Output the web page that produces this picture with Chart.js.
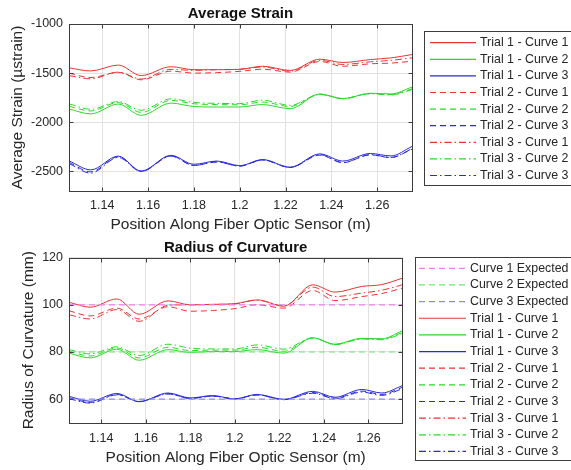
<!DOCTYPE html>
<html>
<head>
<meta charset="utf-8">
<script src="https://cdn.jsdelivr.net/npm/chart.js@4.4.1/dist/chart.umd.min.js"></script>
<style>
  body { margin: 0; background: #fff; }
  #wrap { position: relative; width: 571px; height: 470px; overflow: hidden; }
  canvas { position: absolute; left: 0; }
</style>
</head>
<body>
<div id="wrap">
  <canvas id="strainChart" width="571" height="235" style="top:0"></canvas>
  <canvas id="radiusChart" width="571" height="235" style="top:235px"></canvas>
</div>
<script>
// sample positions along the sensor (m)
const positions = [1.1255, 1.135, 1.147, 1.157, 1.17, 1.18, 1.19, 1.2, 1.21, 1.222, 1.235, 1.245, 1.257, 1.266, 1.2752];
const positionTicks = [1.14, 1.16, 1.18, 1.2, 1.22, 1.24, 1.26];

// average strain (µstrain)
const strainT1C1 = [-1446, -1478, -1418, -1525, -1435, -1465, -1465, -1462, -1430, -1473, -1358, -1392, -1362, -1345, -1311];
const strainT1C2 = [-1865, -1915, -1815, -1930, -1805, -1840, -1845, -1845, -1820, -1862, -1712, -1760, -1705, -1712, -1642];
const strainT1C3 = [-2393, -2485, -2345, -2497, -2337, -2428, -2395, -2442, -2380, -2458, -2322, -2395, -2318, -2343, -2247];
const strainT2C1 = [-1500, -1545, -1492, -1568, -1480, -1500, -1495, -1482, -1460, -1490, -1382, -1430, -1405, -1398, -1379];
const strainT2C2 = [-1838, -1885, -1800, -1900, -1778, -1812, -1820, -1822, -1795, -1840, -1715, -1760, -1708, -1718, -1660];
const strainT2C3 = [-2408, -2505, -2352, -2500, -2342, -2440, -2403, -2446, -2384, -2460, -2335, -2412, -2332, -2360, -2275];
const strainT3C1 = [-1525, -1558, -1490, -1560, -1462, -1472, -1465, -1460, -1438, -1480, -1370, -1412, -1385, -1370, -1345];
const strainT3C2 = [-1812, -1868, -1790, -1878, -1762, -1798, -1808, -1810, -1775, -1828, -1718, -1760, -1710, -1722, -1668];
const strainT3C3 = [-2420, -2518, -2358, -2502, -2345, -2440, -2405, -2446, -2384, -2460, -2330, -2410, -2330, -2358, -2270];
const strainTicks = [-2500, -2000, -1500, -1000];

// radius of curvature (mm)
const expectedRadius = [100, 80, 60];
const radiusT1C1 = [101.1, 99.0, 102.5, 96.0, 101.7, 100.0, 100.2, 100.5, 102.1, 99.4, 108.5, 105.4, 107.8, 108.6, 111.3];
const radiusT1C2 = [79.5, 77.5, 81.2, 76.5, 81.0, 79.8, 80.2, 80.2, 81.0, 79.5, 86.0, 83.3, 85.8, 85.6, 89.0];
const radiusT1C3 = [61.2, 59.1, 62.4, 58.9, 62.6, 60.5, 61.5, 60.1, 62.0, 59.9, 63.3, 60.8, 64.1, 62.6, 65.7];
const radiusT2C1 = [97.5, 95.3, 98.6, 94.0, 99.2, 97.3, 97.6, 98.4, 100.0, 98.6, 106.1, 101.8, 103.5, 104.8, 107.1];
const radiusT2C2 = [80.3, 78.3, 81.7, 77.5, 82.0, 80.6, 80.8, 80.8, 82.0, 80.3, 86.0, 83.2, 85.7, 85.4, 88.3];
const radiusT2C3 = [60.6, 58.6, 62.0, 59.0, 62.3, 60.3, 61.3, 60.1, 61.8, 59.8, 62.8, 60.4, 63.4, 62.0, 65.0];
const radiusT3C1 = [95.8, 94.0, 98.0, 93.0, 99.8, 100.0, 100.2, 100.4, 102.0, 99.6, 107.5, 103.5, 105.0, 106.2, 108.5];
const radiusT3C2 = [81.0, 79.2, 82.2, 78.5, 83.3, 81.6, 81.3, 81.3, 83.0, 81.2, 86.0, 83.1, 85.5, 85.2, 87.8];
const radiusT3C3 = [60.2, 58.3, 61.8, 59.0, 62.2, 60.3, 61.3, 60.1, 61.8, 59.8, 62.5, 60.2, 63.0, 61.6, 64.4];
const radiusTicks = [60, 80, 100, 120];

const X_MIN = 1.1255;
const X_MAX = 1.2752;

const RED = "rgb(236,52,52)";
const GREEN = "rgb(40,218,40)";
const BLUE = "rgb(42,42,218)";
const SOLID = [];
const DASHED = [6, 4];
const DASHDOT = [7, 3, 1.5, 3];
const TEXT = "#262626";
const GRID = "#e2e2e2";
const AXIS = "#3c3c3c";

Chart.defaults.font.family = "'Liberation Sans', Arial, sans-serif";
Chart.defaults.color = TEXT;

function series(ys) {
  return positions.map((x, i) => ({ x, y: ys[i] }));
}

function trial(label, ys, color, dash) {
  return {
    label,
    data: series(ys),
    borderColor: color,
    borderDash: dash,
    borderWidth: 1,
    pointRadius: 0,
    fill: false,
    cubicInterpolationMode: "monotone",
  };
}

function expected(label, value, color) {
  return {
    label,
    data: [{ x: X_MIN, y: value }, { x: X_MAX, y: value }],
    borderColor: color,
    borderDash: DASHED,
    borderWidth: 1.2,
    pointRadius: 0,
    fill: false,
  };
}

// box round the plot area, inward ticks, and the title above it
const framePlugin = {
  id: "frame",
  afterDatasetsDraw(chart, args, opts) {
    const { ctx, chartArea: a, scales } = chart;
    const left = Math.round(a.left) + 0.5;
    const top = Math.round(a.top) + 0.5;
    const right = left + Math.round(a.right - a.left);
    const bottom = top + Math.round(a.bottom - a.top);
    ctx.save();
    ctx.strokeStyle = AXIS;
    ctx.lineWidth = 1;
    ctx.strokeRect(left, top, right - left, bottom - top);

    ctx.beginPath();
    scales.x.ticks.forEach((t) => {
      const px = Math.round(scales.x.getPixelForValue(t.value)) + 0.5;
      ctx.moveTo(px, bottom);
      ctx.lineTo(px, bottom - 4);
      ctx.moveTo(px, top);
      ctx.lineTo(px, top + 4);
    });
    scales.y.ticks.forEach((t) => {
      const py = Math.round(scales.y.getPixelForValue(t.value)) + 0.5;
      ctx.moveTo(left, py);
      ctx.lineTo(left + 4, py);
      ctx.moveTo(right, py);
      ctx.lineTo(right - 4, py);
    });
    ctx.stroke();

    ctx.fillStyle = "#111";
    ctx.font = "bold 15px 'Liberation Sans', Arial, sans-serif";
    ctx.textAlign = "center";
    ctx.textBaseline = "middle";
    ctx.fillText(opts.title, (a.left + a.right) / 2, opts.titleY);
    ctx.restore();
  },
};

// matlab style legend box, drawn from the datasets
const boxLegend = {
  id: "boxLegend",
  afterDraw(chart, args, opts) {
    const ctx = chart.ctx;
    ctx.save();
    ctx.fillStyle = "#fff";
    ctx.fillRect(opts.left, opts.top, opts.width, opts.height);
    ctx.strokeStyle = AXIS;
    ctx.lineWidth = 1;
    ctx.strokeRect(opts.left + 0.5, opts.top + 0.5, opts.width, opts.height);
    ctx.font = "12.4px 'Liberation Sans', Arial, sans-serif";
    ctx.textBaseline = "middle";
    chart.data.datasets.forEach((ds, i) => {
      const y = opts.firstRow + i * opts.rowHeight;
      ctx.strokeStyle = ds.borderColor;
      ctx.lineWidth = 1.2;
      ctx.setLineDash(ds.borderDash);
      ctx.beginPath();
      ctx.moveTo(opts.lineStart, y);
      ctx.lineTo(opts.lineEnd, y);
      ctx.stroke();
      ctx.setLineDash([]);
      ctx.fillStyle = TEXT;
      ctx.fillText(ds.label, opts.textStart, y);
    });
    ctx.restore();
  },
};

function xScale(tickPadding, titlePadding, height) {
  return {
    type: "linear",
    min: X_MIN,
    max: X_MAX,
    afterBuildTicks: (axis) => {
      axis.ticks = positionTicks.map((v) => ({ value: v }));
    },
    afterFit: (axis) => {
      axis.height = height;
    },
    grid: { color: GRID, drawTicks: false },
    border: { display: false },
    ticks: {
      padding: tickPadding,
      maxRotation: 0,
      font: { size: 12.5 },
      callback: (v) => String(Number(v.toFixed(2))),
    },
    title: {
      display: true,
      text: "Position Along Fiber Optic Sensor (m)",
      font: { size: 15.5 },
      padding: { top: 0, bottom: titlePadding },
    },
  };
}

function yScale(min, max, tickValues, label, titlePadding) {
  return {
    min,
    max,
    afterBuildTicks: (axis) => {
      axis.ticks = tickValues.map((v) => ({ value: v }));
    },
    afterFit: (axis) => {
      axis.width = 69;
    },
    grid: { color: GRID, drawTicks: false },
    border: { display: false },
    ticks: { padding: 6, font: { size: 12.5 }, callback: (v) => String(v) },
    title: {
      display: true,
      text: label,
      font: { size: 15.5 },
      padding: { top: titlePadding, bottom: 0 },
    },
  };
}

const strainChart = new Chart(document.getElementById("strainChart"), {
  type: "line",
  data: {
    datasets: [
      trial("Trial 1 - Curve 1", strainT1C1, RED, SOLID),
      trial("Trial 1 - Curve 2", strainT1C2, GREEN, SOLID),
      trial("Trial 1 - Curve 3", strainT1C3, BLUE, SOLID),
      trial("Trial 2 - Curve 1", strainT2C1, RED, DASHED),
      trial("Trial 2 - Curve 2", strainT2C2, GREEN, DASHED),
      trial("Trial 2 - Curve 3", strainT2C3, BLUE, DASHED),
      trial("Trial 3 - Curve 1", strainT3C1, RED, DASHDOT),
      trial("Trial 3 - Curve 2", strainT3C2, GREEN, DASHDOT),
      trial("Trial 3 - Curve 3", strainT3C3, BLUE, DASHDOT),
    ],
  },
  options: {
    responsive: false,
    animation: false,
    events: [],
    layout: { padding: { top: 24, right: 159, left: 0, bottom: 0 } },
    scales: {
      x: xScale(7.5, 1, 44),
      y: yScale(-2700, -1000, strainTicks, "Average Strain (µstrain)", 8),
    },
    plugins: {
      legend: { display: false },
      tooltip: { enabled: false },
      frame: { title: "Average Strain", titleY: 14 },
      boxLegend: {
        left: 424, top: 31, width: 160, height: 154,
        firstRow: 42.7, rowHeight: 16.6,
        lineStart: 430, lineEnd: 476, textStart: 480,
      },
    },
  },
  plugins: [framePlugin, boxLegend],
});

const radiusChart = new Chart(document.getElementById("radiusChart"), {
  type: "line",
  data: {
    datasets: [
      expected("Curve 1 Expected", expectedRadius[0], "rgb(238,128,238)"),
      expected("Curve 2 Expected", expectedRadius[1], "rgb(110,232,110)"),
      expected("Curve 3 Expected", expectedRadius[2], "rgb(140,140,240)"),
      trial("Trial 1 - Curve 1", radiusT1C1, RED, SOLID),
      trial("Trial 1 - Curve 2", radiusT1C2, GREEN, SOLID),
      trial("Trial 1 - Curve 3", radiusT1C3, BLUE, SOLID),
      trial("Trial 2 - Curve 1", radiusT2C1, RED, DASHED),
      trial("Trial 2 - Curve 2", radiusT2C2, GREEN, DASHED),
      trial("Trial 2 - Curve 3", radiusT2C3, BLUE, DASHED),
      trial("Trial 3 - Curve 1", radiusT3C1, RED, DASHDOT),
      trial("Trial 3 - Curve 2", radiusT3C2, GREEN, DASHDOT),
      trial("Trial 3 - Curve 3", radiusT3C3, BLUE, DASHDOT),
    ],
  },
  options: {
    responsive: false,
    animation: false,
    events: [],
    layout: { padding: { top: 22.7, right: 168.7, left: 0, bottom: 0 } },
    scales: {
      x: xScale(8.5, 3, 47.3),
      y: yScale(50, 120, radiusTicks, "Radius of Curvature (mm)", 19),
    },
    plugins: {
      legend: { display: false },
      tooltip: { enabled: false },
      frame: { title: "Radius of Curvature", titleY: 13 },
      boxLegend: {
        left: 415, top: 22, width: 170, height: 203,
        firstRow: 33.3, rowHeight: 16.65,
        lineStart: 419, lineEnd: 466, textStart: 470,
      },
    },
  },
  plugins: [framePlugin, boxLegend],
});
</script>
</body>
</html>
